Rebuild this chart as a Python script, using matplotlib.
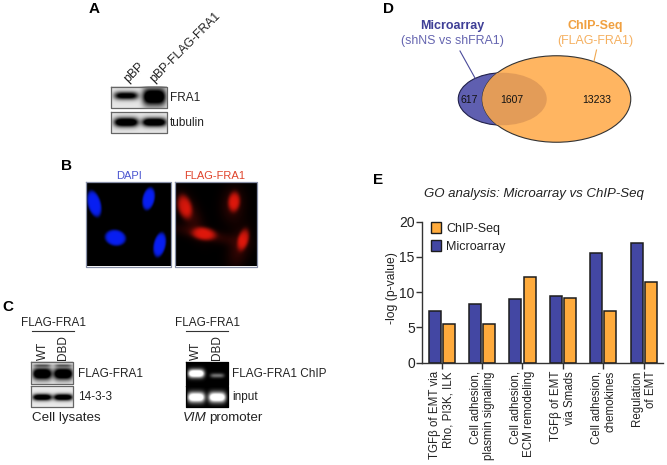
import numpy as np
import matplotlib
matplotlib.use("Agg")
import matplotlib.pyplot as plt
from matplotlib.patches import Ellipse, Patch

plt.rcParams['font.family'] = ['Liberation Sans', 'DejaVu Sans']

# bar chart values
groups = ["TGF\u03b2 of EMT via\nRho, PI3K, ILK", "Cell adhesion,\nplasmin signaling",
          "Cell adhesion,\nECM remodeling", "TGF\u03b2 of EMT\nvia Smads",
          "Cell adhesion,\nchemokines", "Regulation\nof EMT"]
microarray = [7.4, 8.3, 9.0, 9.5, 15.5, 17.0]
chipseq = [5.5, 5.5, 12.1, 9.2, 7.4, 11.5]
yticks = [0, 5, 10, 15, 20]

# venn counts
venn_counts = ["617", "1607", "13233"]

# blots: cx, cy, half width, half height, strength (figure pixels)
blot_fra1 = [(126, 96, 12, 3.0, 0.8), (154, 97, 11.5, 6.5, 1.0)]
blot_tubulin = [(126, 122, 12, 3.6, 1.0), (154, 122, 12, 3.4, 1.0)]
blot_flag = [(42, 374, 9.5, 4.5, 1.0), (63, 374, 9.5, 4.5, 1.0), (42, 366, 9, 1, 0.3), (63, 366, 9, 1, 0.3)]
blot_1433 = [(42, 397, 9.5, 2.6, 0.95), (63, 397, 9.5, 2.6, 0.95)]
gel_chip = [(196, 373, 8, 3.2, 1.0), (217, 375, 7, 1.8, 0.3)]
gel_input = [(196, 397, 8.5, 4, 0.95), (217, 397, 8.5, 4, 0.95)]

# cells: cx, cy, half width, half height, angle
dapi_cells = [(94, 204, 6.5, 13.5, -15), (148, 199, 6, 11.5, 12), (115, 238, 10.5, 8, 10), (159, 245, 6, 12.5, 12)]
flag_cells = [(184, 207, 7, 12, -15), (233, 202, 6, 10, 5), (203, 234, 12, 6.5, 8), (242, 240, 5.5, 11, 15)]
flag_halos = [(190, 215, 9, 22, -25), (232, 205, 11, 17, 5), (205, 235, 31, 6, 12), (238, 248, 10, 20, 15)]


def bands(box, spec):
    x0, x1, y0, y1 = box
    x, y = np.meshgrid(np.arange(x0, x1, 0.5), np.arange(y0, y1, 0.5))
    out = np.zeros_like(x, dtype=float)
    for cx, cy, rx, ry, s in spec:
        out += s * np.exp(-((x - cx) / rx) ** 4) * np.exp(-((y - cy) / (ry * 1.25)) ** 2)
    return np.clip(1.5 * out, 0, 1)


def cells(box, spec, power=4):
    x0, x1, y0, y1 = box
    x, y = np.meshgrid(np.arange(x0, x1, 0.5), np.arange(y0, y1, 0.5))
    out = np.zeros_like(x, dtype=float)
    for cx, cy, rx, ry, a in spec:
        t = np.radians(a)
        u = (x - cx) * np.cos(t) + (y - cy) * np.sin(t)
        v = -(x - cx) * np.sin(t) + (y - cy) * np.cos(t)
        out += np.exp(-((u / rx) ** 2 + (v / ry) ** 2) ** (power / 2))
    return np.clip(out, 0, 1)


fig = plt.figure(figsize=(6.67, 4.65), dpi=100)

# whole figure in pixels for the panels
bg = fig.add_axes([0, 0, 1, 1])
bg.set_xlim(0, 667)
bg.set_ylim(465, 0)
bg.axis("off")


def show(img, box, edge="#666666", cmap="gray"):
    x0, x1, y0, y1 = box
    bg.imshow(img, extent=[x0, x1, y1, y0], cmap=cmap, vmin=0, vmax=1, aspect="auto", interpolation="bilinear")
    bg.plot([x0, x1, x1, x0, x0], [y0, y0, y1, y1, y0], color=edge, lw=0.9)


def letter(x, y, s):
    bg.text(x, y, s, fontsize=11, fontweight="bold", ha="center", va="center", color="black")


# A
letter(94, 9, "A")
show(0.9 - 0.9 * bands((111, 167, 87, 108), blot_fra1), (111, 167, 87, 108))
show(0.9 - 0.9 * bands((111, 167, 112, 133), blot_tubulin), (111, 167, 112, 133))
bg.text(130, 85, "pBP", rotation=45, rotation_mode="anchor", fontsize=8.8, color="#222222", ha="left", va="bottom")
bg.text(156, 85, "pBP-FLAG-FRA1", rotation=45, rotation_mode="anchor", fontsize=8.8, color="#222222", ha="left", va="bottom")
bg.text(170, 98, "FRA1", fontsize=8.5, color="#222222", va="center")
bg.text(170, 123, "tubulin", fontsize=8.5, color="#222222", va="center")

# B
letter(67, 166, "B")
bg.text(129, 175.5, "DAPI", fontsize=8, color="#4a55d0", ha="center", va="center")
bg.text(214.5, 175.5, "FLAG-FRA1", fontsize=8, color="#e0442c", ha="center", va="center")
box = (86, 170.5, 182.5, 266.5)
d = cells(box, dapi_cells, 8)
img = np.dstack([0.03 * d, 0.12 * d, d * 0.95])
show(img, box, edge="#8890a8")
box = (174.5, 257, 182.5, 266.5)
r = np.clip(0.72 * cells(box, flag_cells, 4) + 0.2 * cells(box, flag_halos, 2), 0, 1)
img = np.dstack([r * 0.95, r * 0.1, r * 0.05])
show(img, box, edge="#8890a8")

# C
letter(8, 307, "C")
for cx, lw_x0, lw_x1 in [(53, 32, 74), (207, 186, 228)]:
    bg.text(cx, 323, "FLAG-FRA1", fontsize=8.5, color="#222222", ha="center", va="center")
    bg.plot([lw_x0, lw_x1], [331, 331], color="#333333", lw=0.8)
for xw, xd in [(43, 63), (196, 217)]:
    bg.text(xw, 360, "WT", rotation=90, fontsize=8.5, color="#222222", ha="center", va="bottom")
    bg.text(xd, 360, "DBD", rotation=90, fontsize=8.5, color="#222222", ha="center", va="bottom")
show(0.9 - 0.9 * bands((31, 73, 362, 384), blot_flag), (31, 73, 362, 384))
show(0.92 - 0.92 * bands((31, 73, 386, 407), blot_1433), (31, 73, 386, 407))
show(bands((186, 228, 362, 384.5), gel_chip), (186, 228, 362, 384.5), edge="black")
show(bands((186, 228, 386, 407), gel_input), (186, 228, 386, 407), edge="black")
bg.text(78, 374, "FLAG-FRA1", fontsize=8.5, color="#222222", va="center")
bg.text(78, 397, "14-3-3", fontsize=8.5, color="#222222", va="center")
bg.text(232, 374, "FLAG-FRA1 ChIP", fontsize=8.5, color="#222222", va="center")
bg.text(232, 397, "input", fontsize=8.5, color="#222222", va="center")
bg.text(66.5, 418, "Cell lysates", fontsize=9.6, color="#222222", ha="center", va="center")
bg.text(207, 418, "VIM", fontsize=9.6, fontstyle="italic", color="#222222", ha="right", va="center")
bg.text(209.5, 418, "promoter", fontsize=9.6, color="#222222", ha="left", va="center")

# D
letter(388.5, 9, "D")
bg.text(452.5, 26, "Microarray", fontsize=9, fontweight="bold", color="#3f3f96", ha="center", va="center")
bg.text(452.5, 41, "(shNS vs shFRA1)", fontsize=8.9, color="#6565b0", ha="center", va="center")
bg.text(595, 26, "ChIP-Seq", fontsize=9, fontweight="bold", color="#f0a040", ha="center", va="center")
bg.text(595, 41, "(FLAG-FRA1)", fontsize=8.9, color="#f5b060", ha="center", va="center")
bg.plot([460, 475], [51, 78], color="#4a4a9a", lw=0.8)
bg.plot([596.5, 594], [50, 61], color="#f0a850", lw=0.8)
bg.add_patch(Ellipse((502.5, 99), 88.5, 52.5, fc="#5f5fb0", ec="#20204a", lw=0.8))
bg.add_patch(Ellipse((556.5, 99), 148.5, 86.5, fc="#ffb561", ec="#333333", lw=0.8))
overlap = Ellipse((502.5, 99), 88.5, 52.5, fc="#e39c58", ec="none")
bg.add_patch(overlap)
overlap.set_clip_path(Ellipse((556.5, 99), 148.5, 86.5, transform=bg.transData))
for cx, s in zip([469, 512, 597], venn_counts):
    bg.text(cx, 100, s, fontsize=7.5, color="#111111", ha="center", va="center")

# E
letter(378, 180, "E")
bg.text(534, 194, "GO analysis: Microarray vs ChIP-Seq", fontsize=9.5, fontstyle="italic", color="#222222", ha="center", va="center")

ax = fig.add_axes([421.7 / 667, 1 - 362.7 / 465, (663 - 421.7) / 667, 141 / 465])
ax.patch.set_alpha(0)
x = np.arange(len(groups))
ax.bar(x - 0.175, microarray, 0.3, color="#4347a3", edgecolor="#1c1c1c", linewidth=1.1)
ax.bar(x + 0.175, chipseq, 0.3, color="#ffab3c", edgecolor="#1c1c1c", linewidth=1.1)
ax.set_xlim(-0.495, 5.478)
ax.set_ylim(0, 20)
ax.set_yticks(yticks)
ax.set_xticks(x)
ax.set_xticklabels(groups, rotation=90, fontsize=8.3, ma="right", ha="center", va="top", color="#222222")
ax.tick_params(axis="both", color="#333333", width=1, length=4)
ax.tick_params(axis="y", labelsize=10, labelcolor="#222222", pad=1)
ax.tick_params(axis="x", pad=2)
ax.set_ylabel("-log (p-value)", fontsize=8.7, color="#222222", labelpad=1, y=0.53)
for s in ["top", "right"]:
    ax.spines[s].set_visible(False)
for s in ["left", "bottom"]:
    ax.spines[s].set_color("#333333")
    ax.spines[s].set_linewidth(1)
handles = [Patch(fc="#ffab3c", ec="#1c1c1c", label="ChIP-Seq"), Patch(fc="#4347a3", ec="#1c1c1c", label="Microarray")]
ax.legend(handles=handles, loc="upper left", bbox_to_anchor=(0.038, 1.0), frameon=False, fontsize=9,
          handlelength=0.8, handleheight=1.0, handletextpad=0.45, labelspacing=0.45, borderpad=0, borderaxespad=0,
          labelcolor="#222222")

bg.set_xlim(0, 667)
bg.set_ylim(465, 0)
fig.savefig("out.png", dpi=100)
